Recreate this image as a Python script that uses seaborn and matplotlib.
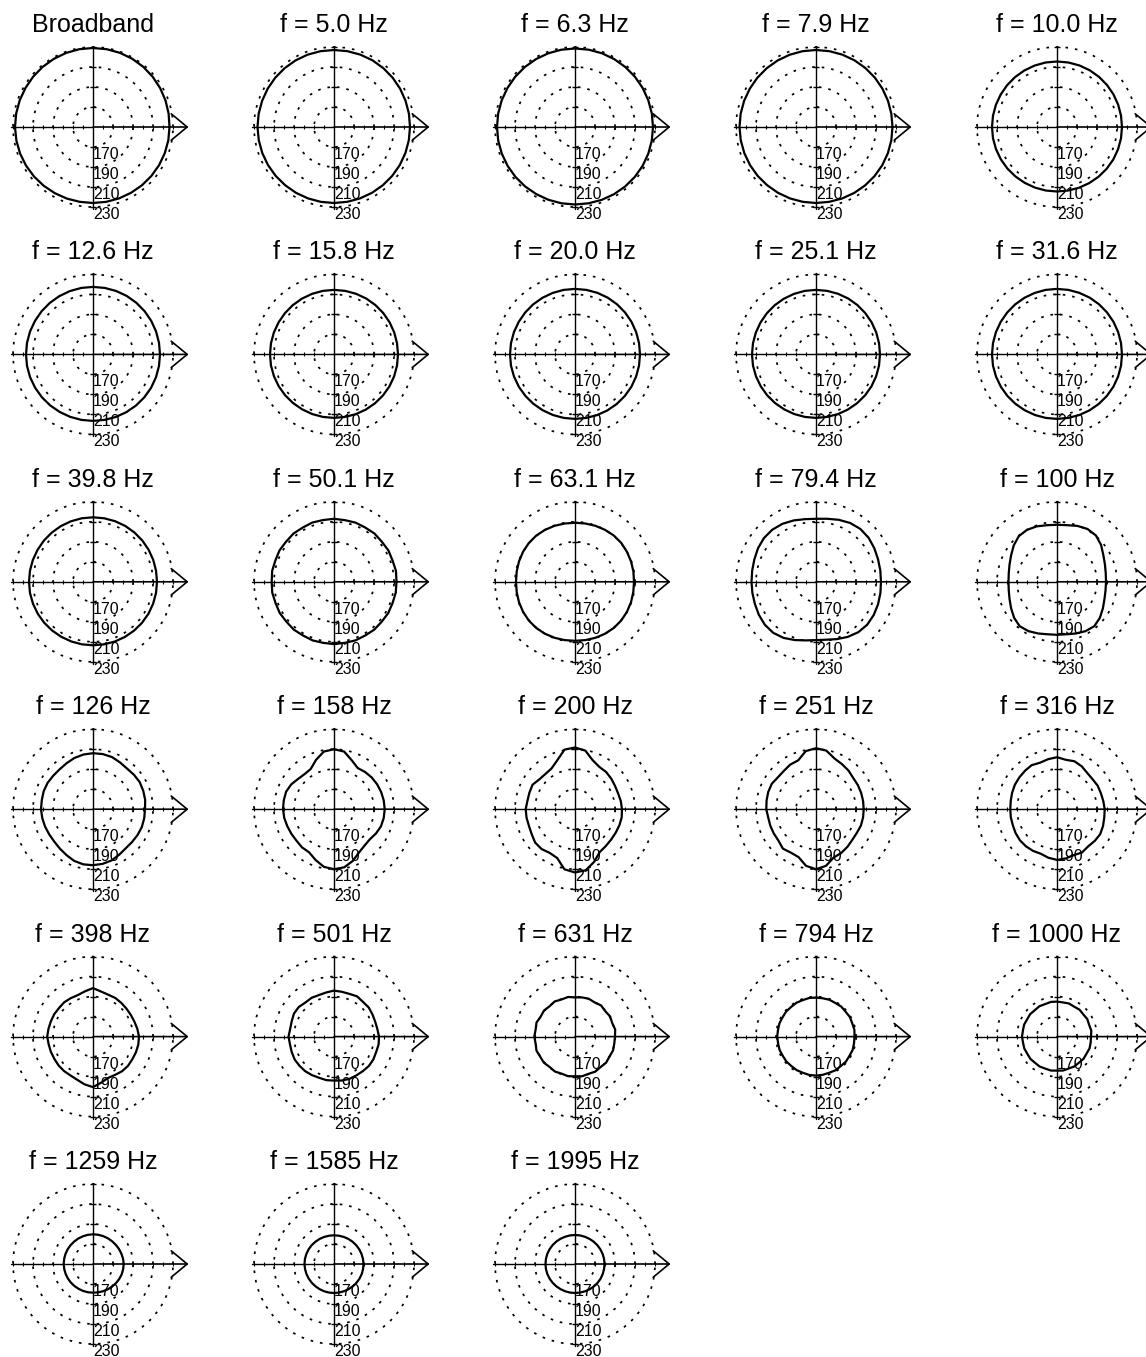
import numpy as np
import pandas as pd
import seaborn as sns
import matplotlib.pyplot as plt

sns.set_theme(style="white")
plt.rcParams["font.family"] = ["Liberation Sans", "DejaVu Sans"]

# Directivity levels sampled every 10 degrees (0 deg = forward, counter-clockwise)
angle_deg = np.arange(0, 360, 10)
ring_levels = [170, 190, 210, 230]
ring_labels = ["170", "190", "210", "230"]

panel_titles = [
    "Broadband", "f = 5.0 Hz", "f = 6.3 Hz", "f = 7.9 Hz", "f = 10.0 Hz",
    "f = 12.6 Hz", "f = 15.8 Hz", "f = 20.0 Hz", "f = 25.1 Hz", "f = 31.6 Hz",
    "f = 39.8 Hz", "f = 50.1 Hz", "f = 63.1 Hz", "f = 79.4 Hz", "f = 100 Hz",
    "f = 126 Hz", "f = 158 Hz", "f = 200 Hz", "f = 251 Hz", "f = 316 Hz",
    "f = 398 Hz", "f = 501 Hz", "f = 631 Hz", "f = 794 Hz", "f = 1000 Hz",
    "f = 1259 Hz", "f = 1585 Hz", "f = 1995 Hz",
]

lv_broadband = [226.5, 226.8, 227.2, 227.6, 228.0, 228.4, 228.7, 228.9, 229.0,
                229.0, 229.0, 228.8, 228.6, 228.4, 228.2, 228.0, 228.0, 228.0,
                228.0, 227.8, 227.6, 227.3, 227.0, 226.7, 226.4, 226.2, 226.0,
                226.0, 226.0, 226.0, 226.0, 226.1, 226.2, 226.3, 226.4, 226.5]
lv_5_0 = [226.0, 226.1, 226.2, 226.4, 226.6, 226.8, 227.0, 227.0, 227.0,
          227.0, 227.0, 227.0, 226.9, 226.8, 226.7, 226.6, 226.5, 226.5,
          226.5, 226.4, 226.3, 226.2, 226.1, 226.0, 226.0, 226.0, 226.0,
          226.0, 226.0, 226.0, 226.0, 226.0, 226.0, 226.0, 226.0, 226.0]
lv_6_3 = [228.0, 228.0, 228.0, 228.1, 228.2, 228.3, 228.4, 228.5, 228.5,
          228.5, 228.5, 228.4, 228.3, 228.2, 228.1, 228.0, 228.0, 228.0,
          228.0, 228.0, 227.9, 227.8, 227.7, 227.6, 227.5, 227.5, 227.5,
          227.5, 227.5, 227.6, 227.7, 227.8, 227.9, 228.0, 228.0, 228.0]
lv_7_9 = [226.5, 226.5, 226.6, 226.7, 226.8, 226.9, 227.0, 227.0, 227.0,
          227.0, 227.0, 226.9, 226.8, 226.7, 226.6, 226.5, 226.5, 226.5,
          226.5, 226.4, 226.3, 226.2, 226.1, 226.0, 226.0, 226.0, 226.0,
          226.0, 226.0, 226.1, 226.2, 226.3, 226.4, 226.5, 226.5, 226.5]
lv_10_0 = [215.0, 215.0, 215.1, 215.2, 215.3, 215.4, 215.5, 215.5, 215.5,
           215.5, 215.5, 215.4, 215.3, 215.2, 215.1, 215.0, 215.0, 215.0,
           215.0, 215.0, 214.9, 214.8, 214.7, 214.6, 214.5, 214.5, 214.5,
           214.5, 214.5, 214.6, 214.7, 214.8, 214.9, 215.0, 215.0, 215.0]
lv_12_6 = [217.0, 217.0, 217.1, 217.2, 217.3, 217.4, 217.5, 217.5, 217.5,
           217.5, 217.5, 217.4, 217.3, 217.2, 217.1, 217.0, 217.0, 217.0,
           217.0, 217.0, 216.9, 216.8, 216.7, 216.6, 216.5, 216.5, 216.5,
           216.5, 216.5, 216.6, 216.7, 216.8, 216.9, 217.0, 217.0, 217.0]
lv_15_8 = [214.0, 214.0, 214.1, 214.2, 214.3, 214.4, 214.5, 214.5, 214.5,
           214.5, 214.5, 214.4, 214.3, 214.2, 214.1, 214.0, 214.0, 214.0,
           214.0, 214.0, 213.9, 213.8, 213.7, 213.6, 213.5, 213.5, 213.5,
           213.5, 213.5, 213.6, 213.7, 213.8, 213.9, 214.0, 214.0, 214.0]
lv_20_0 = [215.0, 215.0, 215.1, 215.2, 215.3, 215.4, 215.5, 215.5, 215.5,
           215.5, 215.5, 215.4, 215.3, 215.2, 215.1, 215.0, 215.0, 215.0,
           215.0, 215.0, 214.9, 214.8, 214.7, 214.6, 214.5, 214.5, 214.5,
           214.5, 214.5, 214.6, 214.7, 214.8, 214.9, 215.0, 215.0, 215.0]
lv_25_1 = [214.0, 214.0, 214.1, 214.2, 214.3, 214.4, 214.5, 214.5, 214.5,
           214.5, 214.5, 214.4, 214.3, 214.2, 214.1, 214.0, 214.0, 214.0,
           214.0, 214.0, 213.9, 213.8, 213.7, 213.6, 213.5, 213.5, 213.5,
           213.5, 213.5, 213.6, 213.7, 213.8, 213.9, 214.0, 214.0, 214.0]
lv_31_6 = [215.0, 215.0, 215.1, 215.2, 215.3, 215.4, 215.5, 215.5, 215.5,
           215.5, 215.5, 215.4, 215.3, 215.2, 215.1, 215.0, 215.0, 215.0,
           215.0, 215.0, 214.9, 214.8, 214.7, 214.6, 214.5, 214.5, 214.5,
           214.5, 214.5, 214.6, 214.7, 214.8, 214.9, 215.0, 215.0, 215.0]
lv_39_8 = [214.0, 214.0, 214.1, 214.2, 214.3, 214.4, 214.5, 214.5, 214.5,
           214.5, 214.5, 214.4, 214.3, 214.2, 214.1, 214.0, 214.0, 214.0,
           214.0, 214.0, 213.9, 213.8, 213.7, 213.6, 213.5, 213.5, 213.5,
           213.5, 213.5, 213.6, 213.7, 213.8, 213.9, 214.0, 214.0, 214.0]
lv_50_1 = [212.5, 212.9, 212.3, 212.8, 212.4, 213.0, 212.6, 213.0, 212.6,
           213.0, 212.7, 213.1, 212.6, 213.0, 212.5, 212.9, 212.4, 212.8,
           212.3, 212.7, 212.2, 212.6, 212.1, 212.5, 212.0, 212.4, 212.0,
           212.3, 212.0, 212.4, 212.1, 212.5, 212.2, 212.6, 212.3, 212.7]
lv_63_1 = [209.0, 209.3, 209.6, 210.0, 210.4, 210.4, 210.0, 209.6, 209.2,
           209.0, 209.2, 209.6, 210.0, 210.3, 210.3, 210.0, 209.6, 209.2,
           209.0, 209.2, 209.6, 210.0, 210.3, 210.3, 210.0, 209.6, 209.2,
           209.0, 209.2, 209.6, 210.0, 210.3, 210.3, 210.0, 209.6, 209.2]
lv_79_4 = [215.0, 215.3, 216.0, 217.3, 218.6, 219.0, 218.0, 216.0, 214.0,
           213.0, 213.6, 215.3, 217.0, 218.0, 218.0, 217.0, 215.6, 214.8,
           214.5, 214.6, 215.0, 216.0, 216.8, 216.6, 214.8, 212.0, 209.5,
           208.3, 208.8, 211.0, 213.6, 215.8, 216.8, 216.6, 216.0, 215.4]
lv_100 = [199.0, 199.5, 201.0, 203.5, 207.5, 210.5, 211.0, 209.5, 207.5,
          207.0, 207.5, 209.0, 210.0, 209.5, 206.5, 203.0, 200.5, 199.0,
          198.5, 199.0, 200.5, 203.0, 206.0, 208.0, 207.0, 205.0, 203.3,
          203.0, 203.3, 205.0, 207.0, 208.0, 206.0, 203.0, 200.5, 199.3]
lv_126 = [202.0, 203.0, 203.5, 204.0, 203.5, 203.0, 204.0, 205.5, 206.0,
          206.0, 205.5, 204.5, 203.0, 202.0, 202.0, 202.5, 202.5, 202.0,
          202.0, 201.5, 201.0, 200.5, 200.5, 201.5, 203.0, 205.0, 206.0,
          206.0, 205.5, 204.5, 202.5, 201.0, 201.0, 201.5, 202.0, 202.0]
lv_158 = [200.7, 200.5, 200.2, 199.8, 199.3, 198.5, 197.5, 202.0, 208.5,
          210.0, 208.5, 202.5, 196.5, 195.8, 197.0, 199.5, 201.0, 201.0,
          201.0, 200.5, 199.7, 199.2, 199.0, 199.8, 199.8, 204.0, 208.5,
          210.0, 209.0, 205.0, 200.0, 197.5, 196.8, 198.5, 200.0, 200.5]
lv_200 = [197.0, 196.5, 195.9, 196.3, 197.4, 198.5, 198.8, 202.0, 209.5,
          211.7, 210.5, 202.0, 197.0, 196.0, 196.5, 199.0, 198.5, 198.3,
          199.3, 199.2, 199.0, 200.0, 202.0, 202.0, 200.5, 202.0, 211.0,
          213.3, 212.0, 206.0, 199.5, 198.0, 197.2, 197.0, 197.2, 197.4]
lv_251 = [197.7, 197.8, 198.0, 198.3, 198.6, 200.5, 202.0, 204.0, 209.5,
          211.0, 209.0, 202.0, 201.5, 200.0, 199.7, 201.0, 200.8, 200.2,
          199.7, 198.5, 198.6, 198.7, 199.0, 201.5, 200.2, 201.0, 207.5,
          210.0, 207.5, 201.5, 200.5, 199.0, 197.5, 197.2, 197.8, 197.8]
lv_316 = [197.7, 197.0, 196.7, 197.0, 196.5, 197.2, 199.5, 201.0, 200.2,
          202.0, 200.8, 199.5, 200.8, 200.0, 199.3, 198.7, 197.8, 197.0,
          196.7, 196.9, 197.0, 197.8, 198.4, 198.4, 198.1, 197.4, 199.3,
          200.7, 200.0, 198.9, 200.0, 198.5, 199.3, 199.9, 199.0, 198.0]
lv_398 = [196.0, 195.0, 194.0, 193.6, 193.6, 194.0, 194.6, 194.6, 195.8,
          198.5, 196.0, 194.2, 194.4, 194.8, 194.4, 194.8, 194.8, 195.2,
          195.8, 195.0, 194.8, 194.6, 194.9, 195.0, 194.9, 196.0, 198.5,
          200.5, 196.8, 194.0, 194.2, 195.2, 195.6, 195.4, 195.7, 196.0]
lv_501 = [195.0, 194.0, 193.8, 194.4, 195.3, 195.2, 196.4, 195.4, 195.5,
          196.0, 194.8, 194.2, 194.8, 194.5, 196.0, 196.2, 195.0, 194.5,
          195.5, 194.7, 195.0, 195.5, 195.2, 195.0, 194.4, 193.8, 194.2,
          194.0, 194.6, 195.0, 194.8, 195.0, 195.6, 195.5, 194.9, 195.3]
lv_631 = [190.0, 190.8, 189.6, 190.5, 189.5, 190.6, 189.4, 190.3, 189.8,
          189.3, 190.2, 189.5, 190.6, 189.6, 190.5, 189.7, 191.0, 190.0,
          190.7, 190.0, 191.0, 190.2, 190.6, 189.6, 190.3, 189.4, 190.2,
          189.7, 190.3, 189.6, 190.5, 189.8, 190.6, 189.8, 190.5, 189.9]
lv_794 = [188.5, 189.0, 188.6, 189.1, 188.7, 189.2, 188.8, 189.2, 188.9,
          189.0, 189.2, 188.8, 189.1, 188.7, 189.0, 188.6, 188.9, 188.6,
          188.8, 188.5, 188.8, 188.4, 188.7, 188.4, 188.7, 188.5, 188.9,
          189.0, 188.8, 188.5, 188.9, 188.5, 189.0, 188.6, 189.0, 188.6]
lv_1000 = [184.0, 184.8, 184.2, 185.0, 184.4, 185.1, 184.5, 185.2, 184.7,
           185.0, 185.2, 184.6, 185.1, 184.5, 185.0, 184.5, 185.0, 184.6,
           185.0, 184.5, 184.8, 184.3, 184.7, 184.2, 184.6, 184.1, 184.5,
           184.0, 184.5, 184.0, 184.5, 184.1, 184.6, 184.1, 184.6, 184.2]
lv_1259 = [180.7, 180.5, 180.2, 180.0, 179.8, 179.7, 179.7, 179.7, 179.7,
           179.7, 179.6, 179.5, 179.4, 179.3, 179.3, 179.3, 179.3, 179.3,
           179.3, 179.2, 179.1, 179.0, 178.9, 178.8, 178.7, 178.7, 178.7,
           178.7, 178.8, 179.0, 179.3, 179.6, 179.9, 180.2, 180.5, 180.6]
lv_1585 = [179.5, 179.4, 179.3, 179.2, 179.1, 179.0, 178.9, 178.8, 178.7,
           178.7, 178.7, 178.8, 178.9, 179.0, 179.2, 179.3, 179.4, 179.5,
           179.5, 179.4, 179.3, 179.2, 179.1, 179.0, 179.0, 179.0, 179.0,
           179.0, 179.0, 179.0, 179.1, 179.2, 179.3, 179.4, 179.5, 179.5]
lv_1995 = [179.5, 179.5, 179.4, 179.3, 179.2, 179.1, 179.0, 179.0, 179.0,
           179.0, 179.0, 179.0, 179.1, 179.2, 179.3, 179.4, 179.5, 179.5,
           179.5, 179.5, 179.4, 179.3, 179.2, 179.1, 179.0, 179.0, 179.0,
           179.0, 179.0, 179.1, 179.2, 179.3, 179.4, 179.5, 179.5, 179.5]

panel_levels = [
    lv_broadband, lv_5_0, lv_6_3, lv_7_9, lv_10_0,
    lv_12_6, lv_15_8, lv_20_0, lv_25_1, lv_31_6,
    lv_39_8, lv_50_1, lv_63_1, lv_79_4, lv_100,
    lv_126, lv_158, lv_200, lv_251, lv_316,
    lv_398, lv_501, lv_631, lv_794, lv_1000,
    lv_1259, lv_1585, lv_1995,
]

# ---- layout (pixels) ----
W, H = 1146, 1357
fig = plt.figure(figsize=(W / 100, H / 100), dpi=100)
fig.patch.set_facecolor("white")

col_x = [93, 334, 575, 816, 1057]
row_y0, row_dy = 127, 227.4
r_min, r_max = 150, 235
R = 85  # pixel radius corresponding to r_max

dotted = (0, (1.5, 4.0))
theta_closed = np.deg2rad(np.append(angle_deg, angle_deg[0]))
axis_ticks = np.arange(160, 231, 10)

for i, (title, lv) in enumerate(zip(panel_titles, panel_levels)):
    cx = col_x[i % 5]
    cy = row_y0 + row_dy * (i // 5)
    ax = fig.add_axes([(cx - R) / W, 1 - (cy + R) / H, 2 * R / W, 2 * R / H],
                      projection="polar")
    ax.set_ylim(r_min, r_max)
    ax.set_xticks([])
    ax.set_yticks(ring_levels)
    ax.set_yticklabels([])
    ax.grid(False)
    ax.yaxis.grid(True, color="black", linestyle=dotted, linewidth=1.25)
    ax.spines["polar"].set_visible(False)
    ax.set_facecolor("none")

    # cross-hair axes
    for th, rr in [(np.pi, 232), (np.pi / 2, 231), (1.5 * np.pi, 232)]:
        ax.plot([th, th], [r_min, rr], color="black", lw=1.0, clip_on=False)
    ax.annotate("", xy=(0, 245.5), xytext=(0, r_min),
                arrowprops=dict(arrowstyle="->,head_length=1.15,head_width=0.95",
                                color="black", lw=1.2, shrinkA=0, shrinkB=0,
                                mutation_scale=10),
                annotation_clip=False)

    # small ticks along the axes
    ax.plot([1.5 * np.pi] * 4, ring_levels, ls="none", marker="_",
            ms=4, mew=1.0, color="black", clip_on=False)
    ax.plot([0.5 * np.pi] * 4, ring_levels, ls="none", marker="_",
            ms=4, mew=1.0, color="black", clip_on=False)
    ax.plot([0.0] * len(axis_ticks), axis_ticks, ls="none", marker="|",
            ms=2.5, mew=0.8, color="black", clip_on=False)
    ax.plot([np.pi] * len(axis_ticks), axis_ticks, ls="none", marker="|",
            ms=2.5, mew=0.8, color="black", clip_on=False)

    for lvl, lab in zip(ring_levels, ring_labels):
        ax.text(1.5 * np.pi, lvl, lab, ha="left", va="top", fontsize=11.5,
                color="black", clip_on=False)

    df = pd.DataFrame({"theta": theta_closed, "level": np.append(lv, lv[0])})
    sns.lineplot(data=df, x="theta", y="level", ax=ax, sort=False,
                 estimator=None, color="black", lw=1.6)
    ax.set_xlabel("")
    ax.set_ylabel("")

    ax.text(0.5, 0.5 + 95 / (2 * R), title, transform=ax.transAxes,
            ha="center", va="baseline", fontsize=18, color="black")

fig.savefig("out.png", dpi=100, facecolor="white")
